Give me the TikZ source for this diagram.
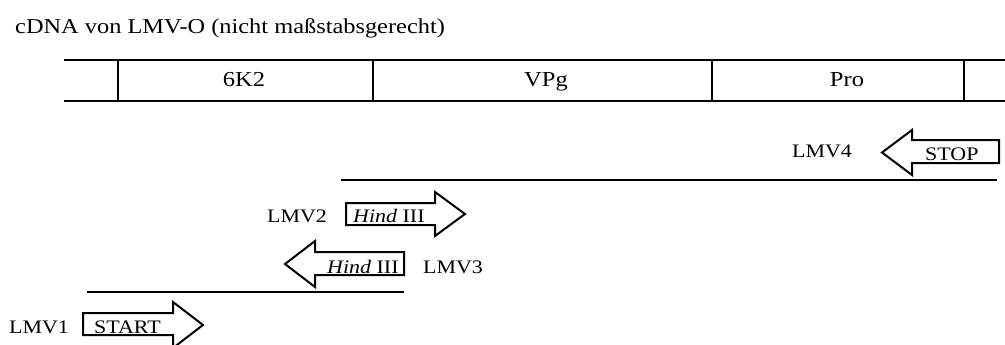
\documentclass[tikz,border=0pt]{standalone}
\usepackage{fontspec}
\setmainfont{Liberation Serif}[FakeStretch=1.15]
\tikzset{
  band/.style={line width=2.4pt},
  ext/.style={line width=1.6pt},
  seg/.style={line width=1.6pt},
  primer/.style={draw, line width=2pt, line join=miter},
  ttl/.style={font=\fontsize{21.2}{24}\selectfont, anchor=base west, inner sep=0pt},
  blbl/.style={font=\fontsize{21.3}{24}\selectfont, anchor=base, inner sep=0pt},
  lbl/.style={font=\fontsize{19.1}{22}\selectfont, anchor=base, inner sep=0pt},
  intxt/.style={font=\fontsize{19.1}{22}\selectfont, anchor=base west, inner sep=0pt},
}
\begin{document}
\begin{tikzpicture}[x=1pt,y=-1pt]
\useasboundingbox (0,0) rectangle (1005,345);
% title
\node[ttl] (title) at (15,34) {cDNA von LMV-O (nicht maßstabsgerecht)};
% genome band
\draw[band] (118,60) rectangle (964,101);
\draw[band] (373,60) -- (373,101);
\draw[band] (712,60) -- (712,101);
\draw[ext] (64,60) -- (118,60);
\draw[ext] (64,101) -- (118,101);
\draw[ext] (964,60) -- (1005,60);
\draw[ext] (964,101) -- (1005,101);
\node[blbl] (k2) at (244,86.5) {6K2};
\node[blbl] (vpg) at (546,86.5) {VPg};
\node[blbl] (pro) at (847,86.5) {Pro};
% LMV4 (reverse, STOP)
\draw[primer] (999,140) -- (912,140) -- (912,130) -- (882,152.5) -- (912,175) -- (912,163) -- (999,163) -- cycle;
\node[intxt] (stop) at (925,160.5) {STOP};
\node[lbl] (lmv4) at (822,157.5) {LMV4};
% upper PCR product
\draw[seg] (341,180) -- (997,180);
% LMV2 (forward, HindIII)
\draw[primer] (346,203) -- (435,203) -- (435,192) -- (465,214) -- (435,236) -- (435,225) -- (346,225) -- cycle;
\node[intxt] (h2) at (353,222.5) {\itshape Hind\upshape{} III};
\node[lbl] (lmv2) at (297,222.5) {LMV2};
% LMV3 (reverse, HindIII)
\draw[primer] (404,252) -- (315,252) -- (315,241) -- (285,264) -- (315,287) -- (315,275) -- (404,275) -- cycle;
\node[intxt] (h3) at (327,273) {\itshape Hind\upshape{} III};
\node[lbl] (lmv3) at (453,273) {LMV3};
% lower PCR product
\draw[seg] (87,292) -- (404,292);
% LMV1 (forward, START)
\draw[primer] (83,313) -- (173,313) -- (173,302) -- (203,325) -- (173,348) -- (173,335) -- (83,335) -- cycle;
\node[intxt] (start) at (94,333) {START};
\node[lbl] (lmv1) at (39,333) {LMV1};
\end{tikzpicture}
\end{document}
